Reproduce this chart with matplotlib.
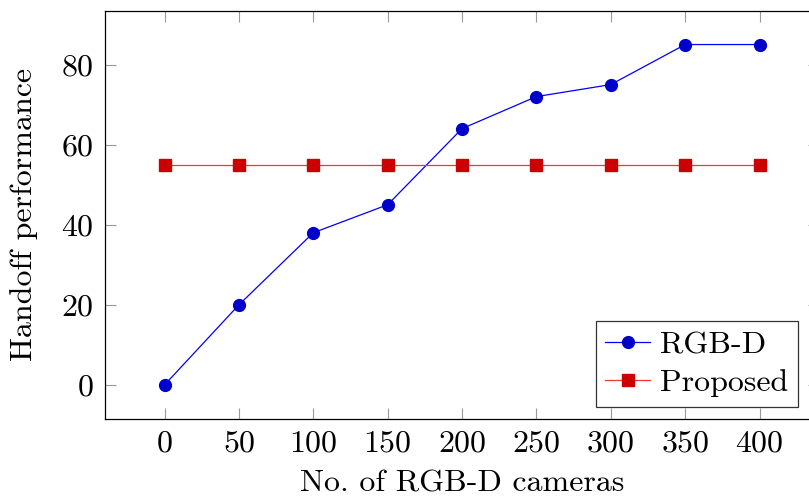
import matplotlib
matplotlib.use("Agg")
import matplotlib.pyplot as plt

# data
cameras = [0, 50, 100, 150, 200, 250, 300, 350, 400]
rgbd = [0, 20, 38, 45, 64, 72, 75, 85, 85]
proposed = [55, 55, 55, 55, 55, 55, 55, 55, 55]
xticks = [0, 50, 100, 150, 200, 250, 300, 350, 400]
yticks = [0, 20, 40, 60, 80]

plt.rcParams['font.family'] = ['cmr10', 'DejaVu Serif']
plt.rcParams['mathtext.fontset'] = 'cm'
plt.rcParams['axes.formatter.use_mathtext'] = True

fs = 23

fig = plt.figure(figsize=(8.09, 5.01), dpi=100)
# axes runs a bit past the right edge of the image, like the original
ax = fig.add_axes([105 / 809, 1 - 419 / 501, 714 / 809, 408.5 / 501])

ax.plot(cameras, rgbd, color='#0000ff', lw=0.9, marker='o', ms=8.5,
        mfc='#0000cc', mec='#0000cc', label='RGB-D')
ax.plot(cameras, proposed, color='#ff3333', lw=0.9, marker='s', ms=8,
        mfc='#cc0000', mec='#cc0000', label='Proposed')

# pgfplots-style enlarged limits
ax.set_xlim(-40, 440)
ax.set_ylim(-8.5, 93.5)
ax.set_xticks(xticks)
ax.set_yticks(yticks)
ax.tick_params(direction='in', length=8, width=0.8, color='#999999',
               top=True, right=True, labelsize=fs, pad=8)
for s in ax.spines.values():
    s.set_linewidth(0.9)

ax.set_xlabel('No. of RGB-D cameras', fontsize=fs)
ax.set_ylabel('Handoff performance', fontsize=fs)
ax.xaxis.set_label_coords(0.5, -0.126)
ax.yaxis.set_label_coords(-0.094, 0.5)

leg = ax.legend(loc='lower right', bbox_to_anchor=(0.97, 0.03), fontsize=fs,
                frameon=True, fancybox=False, edgecolor='#333333',
                framealpha=1, borderaxespad=0, handlelength=1.4,
                handletextpad=0.3, borderpad=0.3, labelspacing=0.3)
leg.get_frame().set_linewidth(0.9)

fig.savefig('out.png', dpi=100)
